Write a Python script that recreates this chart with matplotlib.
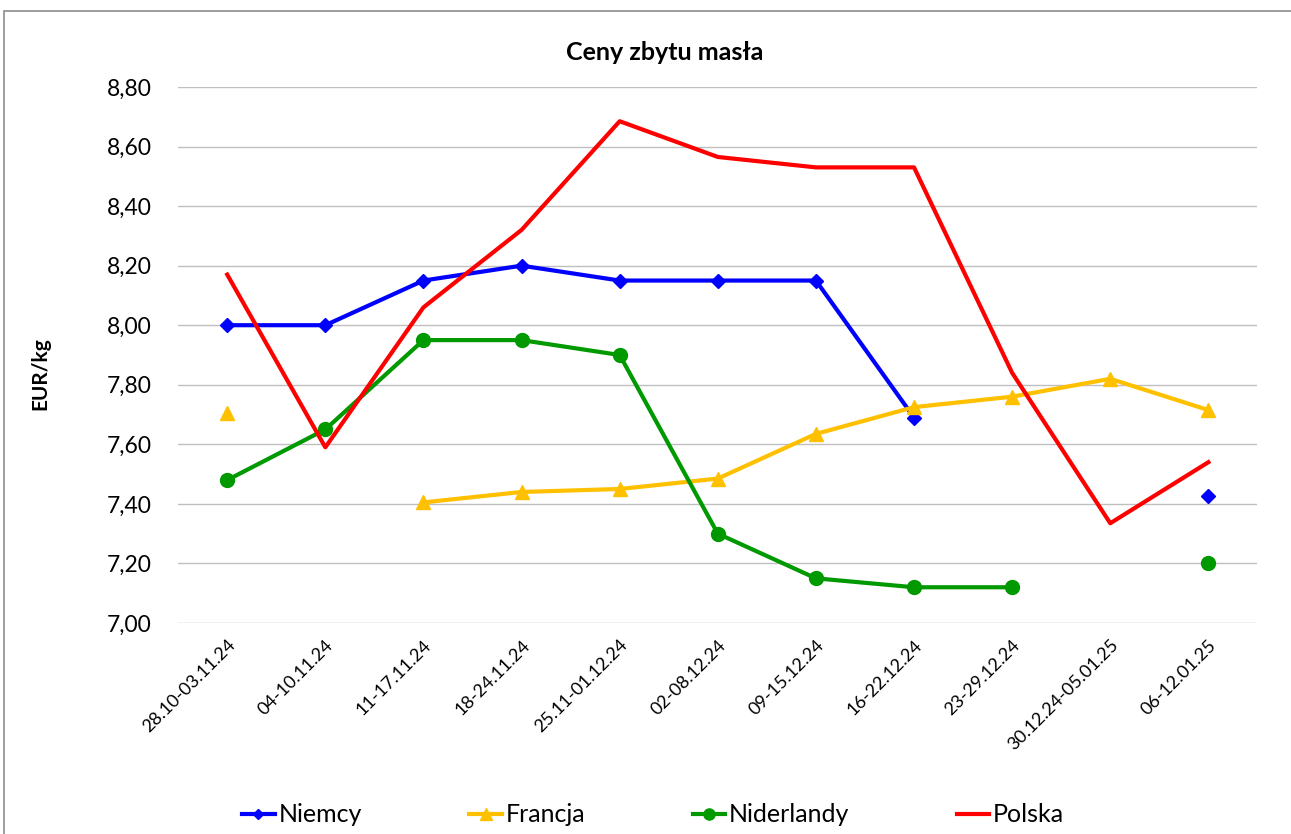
import numpy as np
import matplotlib
matplotlib.use("Agg")
import matplotlib.pyplot as plt
from matplotlib.patches import Rectangle
from matplotlib.ticker import FuncFormatter

plt.rcParams['font.family'] = ['Lato', 'DejaVu Sans']

weeks = ["28.10-03.11.24", "04-10.11.24", "11-17.11.24", "18-24.11.24", "25.11-01.12.24",
         "02-08.12.24", "09-15.12.24", "16-22.12.24", "23-29.12.24", "30.12.24-05.01.25",
         "06-12.01.25"]
nan = np.nan
niemcy = [8.00, 8.00, 8.15, 8.20, 8.15, 8.15, 8.15, 7.69, nan, nan, 7.425]
francja = [7.705, nan, 7.405, 7.44, 7.45, 7.485, 7.635, 7.725, 7.76, 7.82, 7.715]
niderlandy = [7.48, 7.65, 7.95, 7.95, 7.90, 7.30, 7.15, 7.12, 7.12, nan, 7.20]
polska = [8.17, 7.59, 8.06, 8.32, 8.685, 8.565, 8.53, 8.53, 7.84, 7.335, 7.54]

fig = plt.figure(figsize=(12.91, 8.34), dpi=100)
ax = fig.add_axes([0.138, 0.253, 0.836, 0.6427])
x = np.arange(len(weeks))

ax.plot(x, niemcy, color="#0000FF", lw=3, marker="D", ms=7, label="Niemcy", zorder=3)
ax.plot(x, francja, color="#FFC000", lw=3, marker="^", ms=10, label="Francja", zorder=3)
ax.plot(x, niderlandy, color="#009900", lw=3, marker="o", ms=10, label="Niderlandy", zorder=3)
ax.plot(x, polska, color="#FF0000", lw=3, label="Polska", zorder=4)

ax.set_ylim(7.0, 8.8)
ax.set_yticks(np.arange(7.0, 8.81, 0.2))
ax.yaxis.set_major_formatter(FuncFormatter(lambda v, p: f"{v:.2f}".replace(".", ",")))
ax.set_xlim(-0.5, len(weeks) - 0.5)
ax.set_xticks(x)
ax.set_xticklabels(weeks, rotation=45, ha="right", rotation_mode="anchor", fontsize=13)
ax.tick_params(axis="y", labelsize=16.5, length=0, pad=19)
ax.tick_params(axis="x", length=0, pad=10)
ax.grid(axis="y", color="#BFBFBF", lw=1)
ax.set_axisbelow(True)
for s in ax.spines.values():
    s.set_visible(False)

ax.set_ylabel("EUR/kg", fontsize=15, fontweight="bold")
ax.yaxis.set_label_coords(-0.118, 0.466)
fig.text(0.515, 0.937, "Ceny zbytu masła", ha="center", va="center", fontsize=18, fontweight="bold")

fig.legend(loc="center", bbox_to_anchor=(0.506, 0.023), ncol=4, frameon=False, fontsize=18,
           handlelength=1.3, handletextpad=0.15, columnspacing=4.3, markerscale=0.8)

fig.add_artist(Rectangle((0.003, -0.01), 1.0, 0.997, transform=fig.transFigure,
                         fill=False, edgecolor="#8C8C8C", lw=1.2))

fig.savefig("out.png", dpi=100)
